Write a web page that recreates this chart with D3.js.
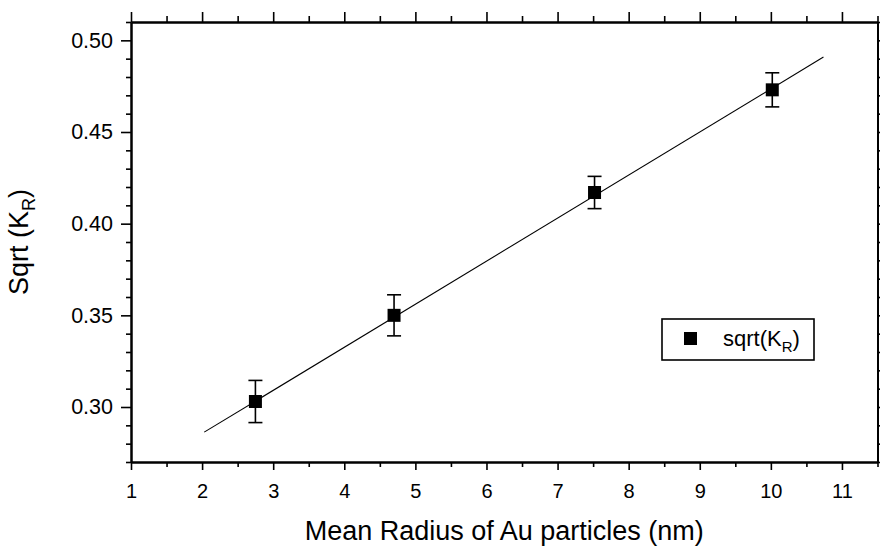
<!DOCTYPE html>
<html>
<head>
<meta charset="utf-8">
<script src="https://cdn.jsdelivr.net/npm/d3@7"></script>
<style>
  html, body { margin: 0; padding: 0; background: #fff; }
  svg { display: block; }
  text { font-family: "Liberation Sans", Arial, Helvetica, sans-serif; fill: #000; }
</style>
</head>
<body>
<svg id="chart" width="880" height="548"></svg>
<script>
// Mean particle radius (nm) and square root of K_R with its uncertainty
const radius = [2.75, 4.70, 7.52, 10.02];
const sqrtKR = [0.303, 0.350, 0.417, 0.473];
const sqrtKRErr = [0.0115, 0.0112, 0.0088, 0.0093];

// Linear fit: sqrt(K_R) = intercept + slope * radius, drawn over fitRange
const fitIntercept = 0.2386;
const fitSlope = 0.02349;
const fitRange = [2.03, 10.74];

// Axis ranges and tick values
const xDomain = [1, 11.5];
const yDomain = [0.27, 0.51];
const xMajorTicks = [1, 2, 3, 4, 5, 6, 7, 8, 9, 10, 11];
const xMinorTicks = [1.5, 2.5, 3.5, 4.5, 5.5, 6.5, 7.5, 8.5, 9.5, 10.5, 11.5];
const yMajorTicks = [0.30, 0.35, 0.40, 0.45, 0.50];
const yMinorTicks = [0.27, 0.28, 0.29, 0.31, 0.32, 0.33, 0.34, 0.36, 0.37, 0.38, 0.39,
                     0.41, 0.42, 0.43, 0.44, 0.46, 0.47, 0.48, 0.49, 0.51];

const svg = d3.select("#chart");
const plot = { left: 131, right: 877.5, top: 22, bottom: 462 };

const x = d3.scaleLinear().domain(xDomain).range([plot.left, plot.right]);
const y = d3.scaleLinear().domain(yDomain).range([plot.bottom, plot.top]);

// Axes: majors labelled on bottom/left, ticks pointing outward on all four sides
function styleAxis(g) {
  g.selectAll(".domain").attr("stroke", "#000").attr("stroke-width", 2);
  g.selectAll(".tick line").attr("stroke", "#000").attr("stroke-width", 1.6);
}

const fmtX = d3.format("d");
const fmtY = d3.format(".2f");

// bottom
svg.append("g").attr("transform", `translate(0,${plot.bottom})`)
  .call(d3.axisBottom(x).tickValues(xMinorTicks).tickSize(5).tickFormat("").tickSizeOuter(0))
  .call(styleAxis);
const xb = svg.append("g").attr("transform", `translate(0,${plot.bottom})`)
  .call(d3.axisBottom(x).tickValues(xMajorTicks).tickSize(8).tickPadding(14).tickFormat(fmtX).tickSizeOuter(0))
  .call(styleAxis);
xb.selectAll(".tick text").style("font-size", "20px").attr("fill", "#000");

// top
svg.append("g").attr("transform", `translate(0,${plot.top})`)
  .call(d3.axisTop(x).tickValues(xMinorTicks).tickSize(6).tickFormat("").tickSizeOuter(0))
  .call(styleAxis);
svg.append("g").attr("transform", `translate(0,${plot.top})`)
  .call(d3.axisTop(x).tickValues(xMajorTicks).tickSize(10).tickFormat("").tickSizeOuter(0))
  .call(styleAxis);

// left
svg.append("g").attr("transform", `translate(${plot.left},0)`)
  .call(d3.axisLeft(y).tickValues(yMinorTicks).tickSize(5).tickFormat("").tickSizeOuter(0))
  .call(styleAxis);
const yl = svg.append("g").attr("transform", `translate(${plot.left},0)`)
  .call(d3.axisLeft(y).tickValues(yMajorTicks).tickSize(10).tickPadding(8).tickFormat(fmtY).tickSizeOuter(0))
  .call(styleAxis);
yl.selectAll(".tick text").style("font-size", "21.5px").attr("fill", "#000");

// right
svg.append("g").attr("transform", `translate(${plot.right},0)`)
  .call(d3.axisRight(y).tickValues(yMinorTicks).tickSize(5).tickFormat("").tickSizeOuter(0))
  .call(styleAxis);
svg.append("g").attr("transform", `translate(${plot.right},0)`)
  .call(d3.axisRight(y).tickValues(yMajorTicks).tickSize(10).tickFormat("").tickSizeOuter(0))
  .call(styleAxis);

// Fit line
const fitLine = d3.line().x(d => x(d)).y(d => y(fitIntercept + fitSlope * d));
svg.append("path")
  .datum(fitRange)
  .attr("d", fitLine)
  .attr("fill", "none")
  .attr("stroke", "#000")
  .attr("stroke-width", 1.1);

// Error bars
const pts = radius.map((r, i) => ({ r, v: sqrtKR[i], e: sqrtKRErr[i] }));
const capHalf = 7;
const eb = svg.append("g").attr("stroke", "#000").attr("stroke-width", 1.6);
pts.forEach(p => {
  eb.append("line").attr("x1", x(p.r)).attr("x2", x(p.r))
    .attr("y1", y(p.v + p.e)).attr("y2", y(p.v - p.e));
  eb.append("line").attr("x1", x(p.r) - capHalf).attr("x2", x(p.r) + capHalf)
    .attr("y1", y(p.v + p.e)).attr("y2", y(p.v + p.e));
  eb.append("line").attr("x1", x(p.r) - capHalf).attr("x2", x(p.r) + capHalf)
    .attr("y1", y(p.v - p.e)).attr("y2", y(p.v - p.e));
});

// Square markers
const ms = 13;
svg.append("g").selectAll("rect")
  .data(pts)
  .join("rect")
  .attr("x", d => x(d.r) - ms / 2)
  .attr("y", d => y(d.v) - ms / 2)
  .attr("width", ms)
  .attr("height", ms)
  .attr("fill", "#000");

// Legend
const lg = svg.append("g").attr("transform", "translate(662,319)");
lg.append("rect").attr("width", 152).attr("height", 41)
  .attr("fill", "#fff").attr("stroke", "#000").attr("stroke-width", 1.6);
lg.append("rect").attr("x", 22).attr("y", 13).attr("width", 13).attr("height", 13).attr("fill", "#000");
const lt = lg.append("text").attr("x", 61).attr("y", 27).style("font-size", "22px");
lt.append("tspan").text("sqrt(K");
lt.append("tspan").attr("dy", 6).style("font-size", "15px").text("R");
lt.append("tspan").attr("dy", -6).text(")");

// Axis titles
svg.append("text")
  .attr("x", (plot.left + plot.right) / 2)
  .attr("y", 540)
  .attr("text-anchor", "middle")
  .style("font-size", "27px")
  .text("Mean Radius of Au particles (nm)");

const yt = svg.append("text")
  .attr("transform", `translate(28,${(plot.top + plot.bottom) / 2}) rotate(-90)`)
  .attr("text-anchor", "middle")
  .style("font-size", "27px");
yt.append("tspan").text("Sqrt (K");
yt.append("tspan").attr("dy", 7).style("font-size", "18px").text("R");
yt.append("tspan").attr("dy", -7).text(")");
</script>
</body>
</html>
